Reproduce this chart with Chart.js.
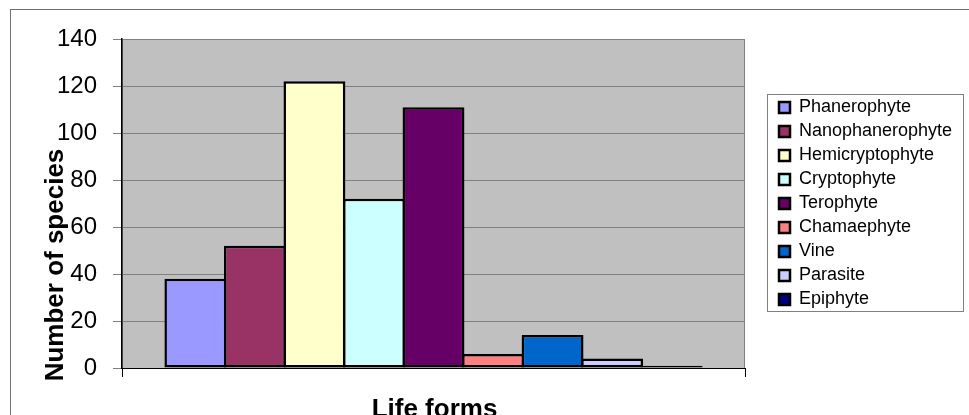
<!DOCTYPE html>
<html>
<head>
<meta charset="utf-8">
<script src="https://cdn.jsdelivr.net/npm/chart.js@4.4.1/dist/chart.umd.min.js"></script>
<style>
  html, body { margin: 0; padding: 0; background: #fff; overflow: hidden; }
  #wrap { position: relative; width: 969px; height: 415px; }
</style>
</head>
<body>
<div id="wrap"><canvas id="lifeChart"></canvas></div>
<script>
// life form categories and number of species
const categories = ['Phanerophyte', 'Nanophanerophyte', 'Hemicryptophyte', 'Cryptophyte',
    'Terophyte', 'Chamaephyte', 'Vine', 'Parasite', 'Epiphyte'];
const speciesCounts = [38, 52, 122, 72, 111, 6, 14, 4, 1];
const yMin = 0;
const yMax = 140;
const yStep = 20;

const barColors = ['#9999FF', '#993366', '#FFFFCC', '#CCFFFF', '#660066',
    '#FF8080', '#0066CC', '#CCCCFF', '#000080'];
const fontFamily = '"Liberation Sans", Arial, sans-serif';

const datasets = categories.map(function(name, i) {
    return {
        label: name,
        data: [speciesCounts[i]],
        backgroundColor: barColors[i],
        borderColor: '#000',
        borderWidth: 2.5,
        borderSkipped: false,
        categoryPercentage: 0.86,
        barPercentage: 1.04
    };
});

// grey plot area, outer frame, legend frame and axis titles
const excelLook = {
    id: 'excelLook',
    beforeInit(chart) {
        const fit = chart.legend.fit;
        chart.legend.fit = function() {
            fit.call(chart.legend);
            this.width = 224;
        };
    },
    afterLayout(chart) {
        chart.legend.left = 773;
    },
    beforeDraw(chart) {
        const ctx = chart.ctx;
        const a = chart.chartArea;
        ctx.save();
        ctx.fillStyle = '#fff';
        ctx.fillRect(0, 0, chart.width, chart.height);
        ctx.strokeStyle = '#707070';
        ctx.lineWidth = 1;
        ctx.strokeRect(10.5, 9.5, 2000, 2000);
        ctx.fillStyle = '#C0C0C0';
        ctx.fillRect(a.left, a.top, a.right - a.left, a.bottom - a.top);
        ctx.strokeStyle = '#808080';
        ctx.strokeRect(a.left + 0.5, a.top + 0.5, a.right - a.left - 1, a.bottom - a.top);
        ctx.restore();
    },
    afterDraw(chart) {
        const ctx = chart.ctx;
        const a = chart.chartArea;
        ctx.save();
        ctx.strokeStyle = '#808080';
        ctx.lineWidth = 1;
        ctx.strokeRect(767.5, 94.5, 196, 217);

        ctx.fillStyle = '#000';
        ctx.font = 'bold 26px ' + fontFamily;
        ctx.textAlign = 'center';
        ctx.textBaseline = 'alphabetic';
        ctx.fillText('Life forms', (a.left + a.right) / 2 + 1, 417);

        ctx.translate(63, 265);
        ctx.rotate(-Math.PI / 2);
        ctx.fillText('Number of species', 0, 0);
        ctx.restore();
    }
};

new Chart(document.getElementById('lifeChart'), {
    type: 'bar',
    data: {
        labels: [''],
        datasets: datasets
    },
    options: {
        responsive: true,
        maintainAspectRatio: false,
        animation: false,
        layout: { padding: { left: 57, top: 39, right: 0, bottom: 0 } },
        plugins: {
            tooltip: { enabled: false },
            legend: {
                position: 'right',
                fullSize: false,
                labels: {
                    boxWidth: 11,
                    boxHeight: 11,
                    padding: 6,
                    color: '#000',
                    font: { family: fontFamily, size: 18 }
                }
            }
        },
        scales: {
            x: {
                afterFit(scale) { scale.height = 47; },
                ticks: { display: false },
                grid: {
                    drawOnChartArea: false,
                    color: '#000',
                    tickLength: 9
                },
                border: { color: '#000', width: 1 }
            },
            y: {
                min: yMin,
                max: yMax,
                afterFit(scale) { scale.width = 65; },
                ticks: {
                    stepSize: yStep,
                    padding: 16,
                    color: '#000',
                    font: { family: fontFamily, size: 24 }
                },
                grid: {
                    color: '#808080',
                    lineWidth: 1,
                    tickLength: 9
                },
                border: { color: '#000', width: 1.5 }
            }
        }
    },
    plugins: [excelLook]
});
</script>
</body>
</html>
